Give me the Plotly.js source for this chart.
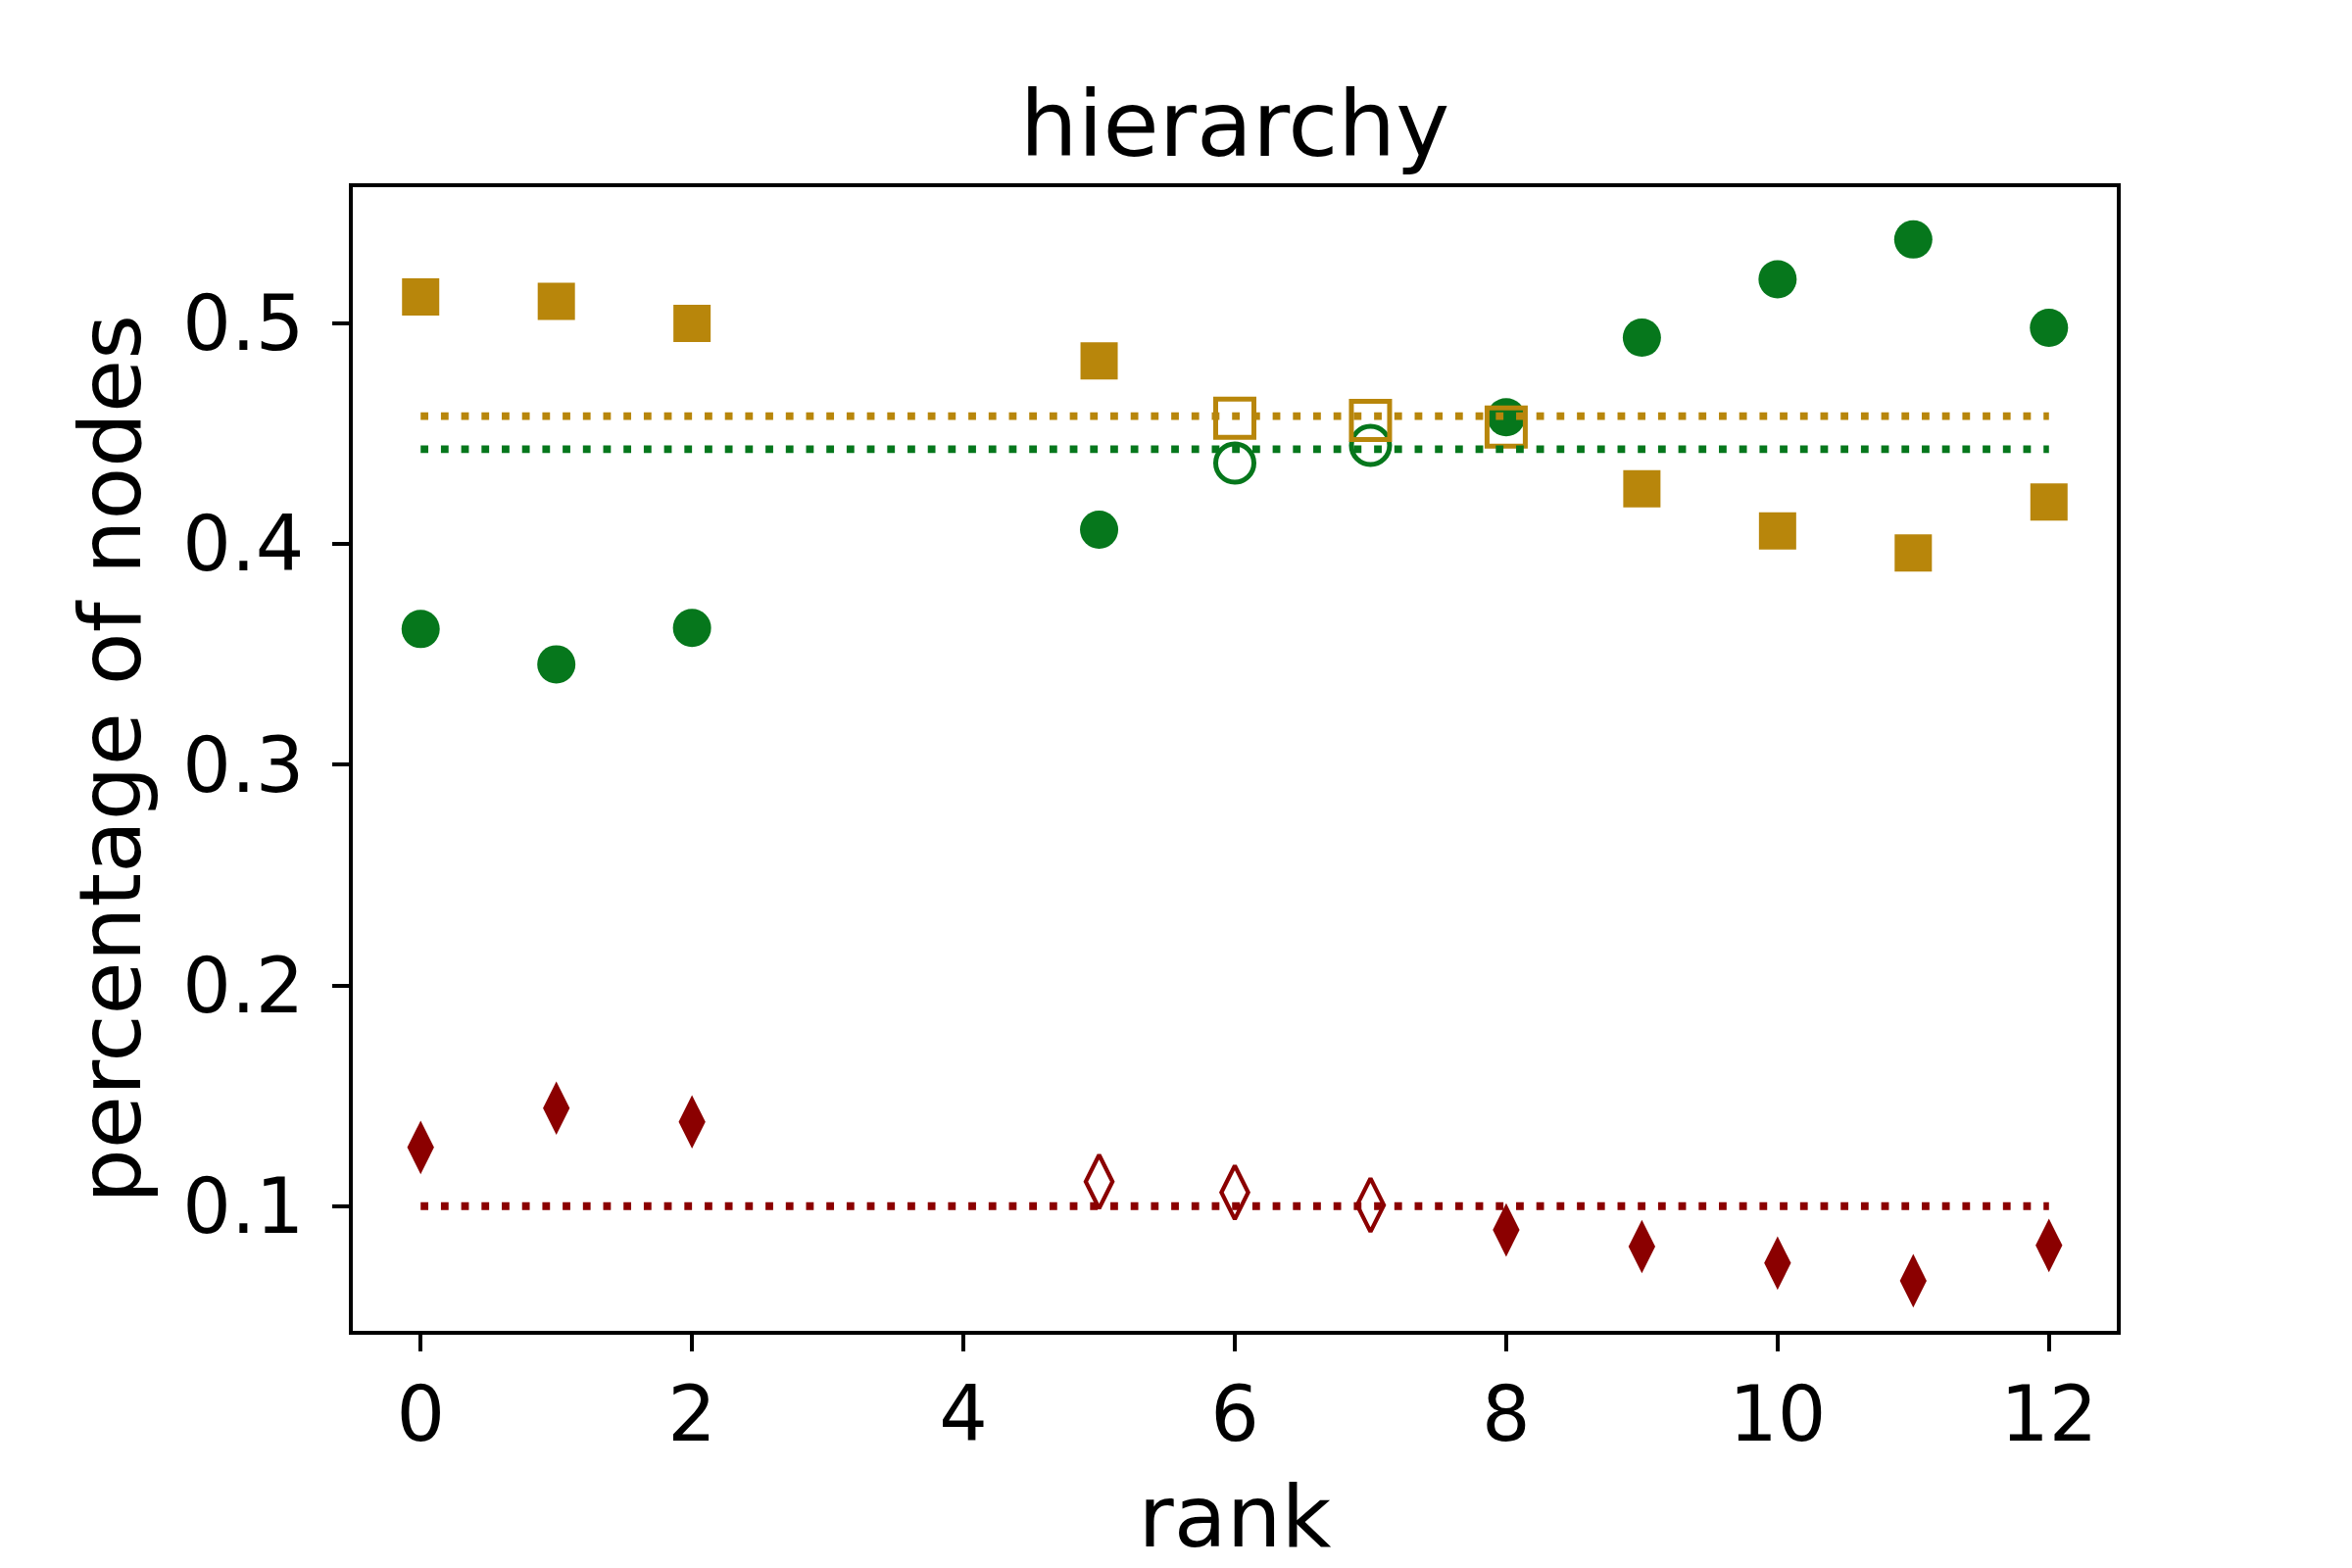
<!DOCTYPE html>
<html>
<head>
<meta charset="utf-8">
<script src="https://cdn.plot.ly/plotly-3.0.1.min.js"></script>
<style>html,body{margin:0;padding:0;background:#fff;}</style>
</head>
<body>
<div id="chart" style="width:2400px;height:1600px;"></div>
<script>
// ---- data ----
const ranks = [0, 1, 2, 5, 6, 7, 8, 9, 10, 11, 12];

const squareVals  = [0.512, 0.510, 0.500, 0.483, 0.457, 0.456, 0.453, 0.425, 0.406, 0.396, 0.419];
const squareOpen  = [false, false, false, false, true, true, true, false, false, false, false];

const circleVals  = [0.3615, 0.3455, 0.362, 0.4065, 0.4367, 0.4447, 0.4575, 0.4935, 0.520, 0.538, 0.498];
const circleOpen  = [false, false, false, false, true, true, false, false, false, false, false];

const diamondVals = [0.1266, 0.1444, 0.1382, 0.1111, 0.1062, 0.1005, 0.0892, 0.0817, 0.0742, 0.0662, 0.0822];
const diamondOpen = [false, false, false, true, true, true, false, false, false, false, false];

const meanX = [0, 12];
const meanSquare  = [0.458, 0.458];
const meanCircle  = [0.443, 0.443];
const meanDiamond = [0.100, 0.100];

const xTicks = [0, 2, 4, 6, 8, 10, 12];
const yTicks = [0.1, 0.2, 0.3, 0.4, 0.5];

const titleText = "hierarchy";
const xLabel = "rank";
const yLabel = "percentage of nodes";

// ---- styles ----
const GOLD = "#b8860b";
const GREEN = "#06771c";
const RED = "#8b0000";
const FONT = "DejaVu Sans, Liberation Sans, sans-serif";

function pick(arr, flags, want) {
  return arr.filter((_, i) => flags[i] === want);
}

function markerTrace(vals, flags, open, symbol, color, size, lw) {
  return {
    type: "scatter",
    mode: "markers",
    x: pick(ranks, flags, open),
    y: pick(vals, flags, open),
    showlegend: false,
    hoverinfo: "x+y",
    marker: {
      symbol: open ? symbol + "-open" : symbol,
      size: size,
      color: color,
      line: { width: open ? lw : 0, color: color }
    }
  };
}

function meanTrace(vals, color) {
  return {
    type: "scatter",
    mode: "lines",
    x: meanX,
    y: vals,
    showlegend: false,
    hoverinfo: "skip",
    line: { color: color, width: 7.8, dash: "7.8px,12.9px" }
  };
}

const traces = [
  markerTrace(circleVals, circleOpen, false, "circle", GREEN, 39, 0),
  markerTrace(circleVals, circleOpen, true, "circle", GREEN, 39, 5),
  markerTrace(squareVals, squareOpen, false, "square", GOLD, 38, 0),
  markerTrace(squareVals, squareOpen, true, "square", GOLD, 39, 5),
  markerTrace(diamondVals, diamondOpen, false, "diamond-tall", RED, 39, 0),
  markerTrace(diamondVals, diamondOpen, true, "diamond-tall", RED, 39, 4.2),
  meanTrace(meanCircle, GREEN),
  meanTrace(meanSquare, GOLD),
  meanTrace(meanDiamond, RED)
];

const layout = {
  width: 2400,
  height: 1600,
  paper_bgcolor: "#ffffff",
  plot_bgcolor: "#ffffff",
  margin: { l: 360, r: 240, t: 191, b: 242, pad: 0 },
  font: { family: FONT, color: "#000000", size: 78 },
  title: {
    text: titleText,
    font: { family: FONT, size: 93, color: "#000000" },
    x: 0.5, xref: "paper", xanchor: "center",
    y: 1 - 126 / 1600, yref: "container", yanchor: "middle"
  },
  showlegend: false,
  xaxis: {
    range: [-0.5, 12.5],
    tickmode: "array",
    tickvals: xTicks,
    ticktext: xTicks.map(String),
    ticks: "outside",
    ticklen: 17,
    tickwidth: 4,
    tickcolor: "#000",
    ticklabelstandoff: -3,
    tickfont: { family: FONT, size: 78, color: "#000" },
    showline: true, linewidth: 4, linecolor: "#000", mirror: true,
    showgrid: false, zeroline: false,
    automargin: false,
    title: { text: xLabel, font: { family: FONT, size: 88, color: "#000" }, standoff: 31 }
  },
  yaxis: {
    range: [0.0435, 0.5617],
    tickmode: "array",
    tickvals: yTicks,
    ticktext: yTicks.map(v => v.toFixed(1)),
    ticks: "outside",
    ticklen: 17,
    tickwidth: 4,
    tickcolor: "#000",
    ticklabelstandoff: 13,
    tickfont: { family: FONT, size: 78, color: "#000" },
    showline: true, linewidth: 4, linecolor: "#000", mirror: true,
    showgrid: false, zeroline: false,
    automargin: false,
    title: { text: yLabel, font: { family: FONT, size: 88, color: "#000" }, standoff: 15 }
  }
};

Plotly.newPlot("chart", traces, layout, { displayModeBar: false, staticPlot: true });
</script>
</body>
</html>
